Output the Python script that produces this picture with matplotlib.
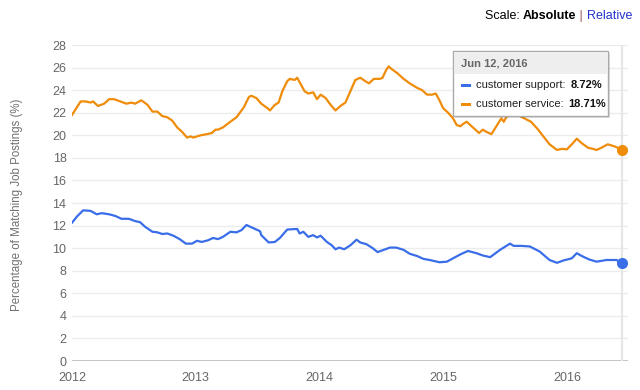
import matplotlib
matplotlib.use("Agg")
import matplotlib.pyplot as plt
from matplotlib.patches import Rectangle

plt.rcParams['font.family'] = ['Liberation Sans', 'DejaVu Sans']

# ---- data (decimal years, % of matching job postings) ----
service_x = [2012.00, 2012.07, 2012.11, 2012.15, 2012.17, 2012.21, 2012.26, 2012.30, 2012.34, 2012.39,
             2012.44, 2012.48, 2012.51, 2012.56, 2012.61, 2012.65, 2012.69, 2012.73, 2012.77, 2012.81,
             2012.85, 2012.89, 2012.93, 2012.96, 2012.98, 2013.04, 2013.09, 2013.13, 2013.16, 2013.18,
             2013.22, 2013.28, 2013.33, 2013.39, 2013.43, 2013.45, 2013.49, 2013.53, 2013.58, 2013.60,
             2013.64, 2013.67, 2013.70, 2013.74, 2013.76, 2013.80, 2013.82, 2013.86, 2013.88, 2013.91,
             2013.95, 2013.98, 2014.01, 2014.05, 2014.09, 2014.13, 2014.17, 2014.21, 2014.25, 2014.29,
             2014.33, 2014.37, 2014.40, 2014.44, 2014.49, 2014.51, 2014.54, 2014.56, 2014.58, 2014.63,
             2014.68, 2014.73, 2014.79, 2014.83, 2014.87, 2014.91, 2014.94, 2014.97, 2015.00, 2015.04,
             2015.08, 2015.11, 2015.14, 2015.16, 2015.19, 2015.24, 2015.29, 2015.32, 2015.35, 2015.39,
             2015.43, 2015.47, 2015.49, 2015.51, 2015.55, 2015.62, 2015.71, 2015.76, 2015.81, 2015.86,
             2015.92, 2015.96, 2016.00, 2016.04, 2016.08, 2016.12, 2016.17, 2016.21, 2016.24, 2016.28,
             2016.33, 2016.39, 2016.445]
service_y = [21.8, 23.0, 23.0, 22.9, 23.0, 22.6, 22.8, 23.2, 23.2, 23.0,
             22.8, 22.9, 22.8, 23.1, 22.7, 22.1, 22.1, 21.7, 21.6, 21.3,
             20.7, 20.3, 19.8, 19.9, 19.8, 20.0, 20.1, 20.2, 20.5, 20.5,
             20.7, 21.2, 21.6, 22.5, 23.4, 23.5, 23.3, 22.8, 22.4, 22.2,
             22.7, 22.9, 23.9, 24.8, 25.0, 24.9, 25.1, 24.3, 23.9, 23.7,
             23.8, 23.2, 23.6, 23.3, 22.7, 22.2, 22.6, 22.9, 23.9, 24.9,
             25.1, 24.8, 24.6, 25.0, 25.0, 25.1, 25.8, 26.1, 25.9, 25.5,
             25.0, 24.6, 24.2, 24.0, 23.6, 23.6, 23.7, 23.1, 22.4, 22.0,
             21.5, 20.9, 20.8, 21.0, 21.2, 20.7, 20.2, 20.5, 20.3, 20.1,
             20.8, 21.5, 21.2, 21.6, 21.9, 21.7, 21.2, 20.6, 19.9, 19.2,
             18.7, 18.8, 18.75, 19.2, 19.7, 19.3, 18.9, 18.8, 18.7, 18.9,
             19.2, 19.0, 18.71]

support_x = [2012.00, 2012.04, 2012.09, 2012.15, 2012.20, 2012.24, 2012.30, 2012.35, 2012.40, 2012.46,
             2012.51, 2012.55, 2012.59, 2012.65, 2012.69, 2012.73, 2012.77, 2012.82, 2012.87, 2012.92,
             2012.97, 2013.01, 2013.05, 2013.10, 2013.14, 2013.18, 2013.22, 2013.28, 2013.33, 2013.37,
             2013.41, 2013.47, 2013.52, 2013.53, 2013.59, 2013.64, 2013.68, 2013.74, 2013.82, 2013.84,
             2013.87, 2013.91, 2013.95, 2013.98, 2014.01, 2014.06, 2014.10, 2014.13, 2014.16, 2014.20,
             2014.25, 2014.30, 2014.33, 2014.38, 2014.43, 2014.47, 2014.52, 2014.57, 2014.62, 2014.68,
             2014.73, 2014.79, 2014.84, 2014.89, 2014.93, 2014.97, 2015.03, 2015.08, 2015.14, 2015.20,
             2015.27, 2015.32, 2015.38, 2015.46, 2015.54, 2015.57, 2015.63, 2015.70, 2015.78, 2015.86,
             2015.92, 2015.97, 2016.04, 2016.08, 2016.13, 2016.18, 2016.24, 2016.32, 2016.40, 2016.445]
support_y = [12.25, 12.8, 13.35, 13.3, 13.0, 13.1, 13.0, 12.85, 12.6, 12.6,
             12.4, 12.3, 11.9, 11.45, 11.4, 11.25, 11.3, 11.1, 10.8, 10.4,
             10.4, 10.65, 10.55, 10.7, 10.9, 10.8, 11.0, 11.45, 11.4, 11.6,
             12.05, 11.75, 11.5, 11.15, 10.5, 10.55, 10.9, 11.65, 11.7, 11.3,
             11.45, 11.0, 11.15, 10.95, 11.1, 10.55, 10.25, 9.9, 10.05, 9.9,
             10.25, 10.75, 10.5, 10.35, 10.0, 9.65, 9.85, 10.05, 10.05, 9.85,
             9.5, 9.3, 9.05, 8.95, 8.85, 8.75, 8.8, 9.1, 9.45, 9.75,
             9.55, 9.35, 9.2, 9.85, 10.4, 10.2, 10.2, 10.15, 9.7, 8.95,
             8.7, 8.9, 9.1, 9.55, 9.25, 9.0, 8.8, 8.95, 8.95, 8.72]

year_ticks = [2012, 2013, 2014, 2015, 2016]
y_ticks = list(range(0, 29, 2))
hover_date = 2016.445
hover_label = "Jun 12, 2016"
series_names = ["customer support", "customer service"]

BLUE = "#3a6ee8"
ORANGE = "#ef8c0a"

W, H = 640, 390
fig = plt.figure(figsize=(W / 100, H / 100), dpi=100)
ax = fig.add_axes([72 / W, 1 - 361 / H, (628 - 72) / W, (361 - 45) / H])

ax.set_xlim(2012.0, 2016.494)
ax.set_ylim(0, 28)
ax.set_yticks(y_ticks)
ax.set_xticks(year_ticks)
ax.set_xticklabels([str(y) for y in year_ticks])
ax.grid(axis='y', color='#ececec', linewidth=1)
ax.set_axisbelow(True)
for s in ax.spines.values():
    s.set_visible(False)
ax.axhline(0, color='#bbbbbb', linewidth=1.2, zorder=1)
ax.tick_params(axis='both', length=0, labelsize=9, colors='#666666')
ax.tick_params(axis='y', pad=4)
ax.tick_params(axis='x', pad=8)

# hover line
ax.axvline(hover_date, color='#e6e6e6', linewidth=1.5, zorder=1)

ax.plot(service_x, service_y, color=ORANGE, linewidth=1.6, zorder=3)
ax.plot(support_x, support_y, color=BLUE, linewidth=1.6, zorder=3)
ax.plot([service_x[-1]], [service_y[-1]], 'o', color=ORANGE, markersize=7, zorder=4)
ax.plot([support_x[-1]], [support_y[-1]], 'o', color=BLUE, markersize=7, zorder=4)

fig.text(17 / W, 1 - 205 / H, "Percentage of Matching Job Postings (%)", rotation=90,
         ha='center', va='center', fontsize=8.3, color='#707070')

# Scale: Absolute | Relative
fs = 9
t = fig.text(632 / W, 1 - 16 / H, "Relative", ha='right', va='center', fontsize=fs, color='#2233cc')
fig.canvas.draw()
r = fig.canvas.get_renderer()
bb = t.get_window_extent(r)
x = bb.x0
t2 = fig.text(x / W, 1 - 16 / H, " | ", ha='right', va='center', fontsize=fs, color='#995555')
x = t2.get_window_extent(r).x0
t3 = fig.text(x / W, 1 - 16 / H, "Absolute", ha='right', va='center', fontsize=fs, color='black', weight='bold')
x = t3.get_window_extent(r).x0
fig.text(x / W, 1 - 16 / H, "Scale: ", ha='right', va='center', fontsize=fs, color='black')

# tooltip
def fx(px):
    return px / W
def fy(py):
    return 1 - py / H

bx0, bx1, by0, by1 = 453, 608, 51, 116
fig.patches.append(Rectangle((fx(bx0 + 2), fy(by1 + 2)), (bx1 - bx0) / W, (by1 - by0) / H,
                             transform=fig.transFigure, facecolor='#000000', alpha=0.12,
                             edgecolor='none', zorder=5))
fig.patches.append(Rectangle((fx(bx0), fy(by1)), (bx1 - bx0) / W, (by1 - by0) / H,
                             transform=fig.transFigure, facecolor='white',
                             edgecolor='#aaaaaa', linewidth=1, zorder=6))
fig.patches.append(Rectangle((fx(bx0 + 1), fy(74)), (bx1 - bx0 - 2) / W, (74 - by0 - 1) / H,
                             transform=fig.transFigure, facecolor='#eeeeee',
                             edgecolor='none', zorder=7))
fig.text(fx(461), fy(63), hover_label, ha='left', va='center', fontsize=8, weight='bold',
         color='#666666', zorder=8)
rows = [(series_names[0], support_y[-1], BLUE, 85),
        (series_names[1], service_y[-1], ORANGE, 104)]
for name, val, col, py in rows:
    fig.patches.append(Rectangle((fx(461), fy(py + 1.5)), 10 / W, 3 / H, transform=fig.transFigure,
                                 facecolor=col, edgecolor='none', zorder=8))
    tt = fig.text(fx(476), fy(py), name + ":", ha='left', va='center', fontsize=8,
                  color='#222222', zorder=8)
    e = tt.get_window_extent(r)
    fig.text((e.x1 + 5) / W, fy(py), f"{val:.2f}%", ha='left', va='center', fontsize=8,
             weight='bold', color='#111111', zorder=8)

fig.savefig("out.png", dpi=100, facecolor='white')
